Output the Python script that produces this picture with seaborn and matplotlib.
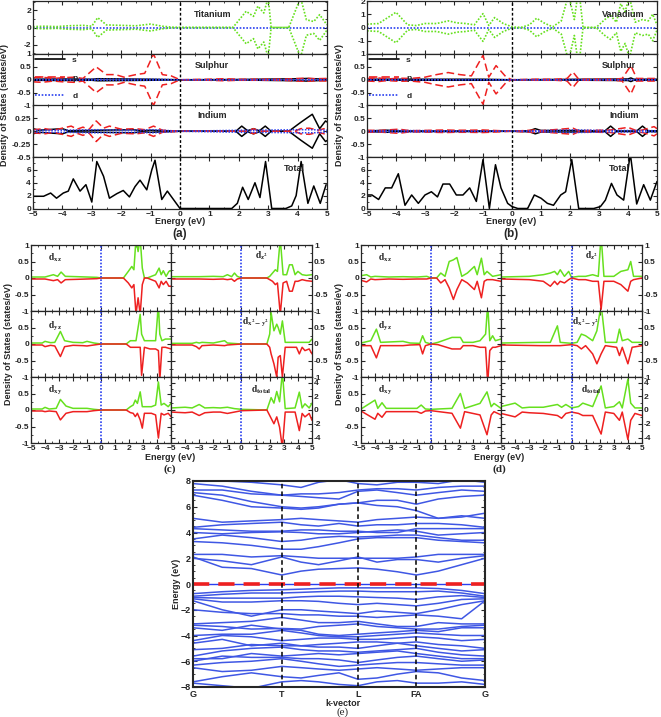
import numpy as np
import matplotlib
matplotlib.use('Agg')
import matplotlib.pyplot as plt
from matplotlib.ticker import MultipleLocator
import seaborn as sns

sns.set_style('ticks')
plt.rcParams.update({
    'font.family': ['Liberation Sans', 'DejaVu Sans'],
    'font.weight': 'bold',
    'font.size': 6,
    'axes.linewidth': 0.9,
    'axes.labelweight': 'bold',
    'xtick.direction': 'in', 'ytick.direction': 'in',
    'xtick.major.size': 3, 'ytick.major.size': 3,
    'xtick.minor.size': 1.6, 'ytick.minor.size': 1.6,
    'xtick.major.pad': 1.5, 'ytick.major.pad': 1.5,
    'mathtext.fontset': 'stix',
})

GREEN = '#66e01e'
RED = '#ee2020'
BLUE = '#2a3ff0'
BAND = '#3f57e4'

# ---------------- (a) Ti-doped: (energy, DOS) pairs, spin-down drawn mirrored
ti_d = [(-5, .1), (-4.6, .15), (-4.2, .1), (-3.8, .2), (-3.3, .25), (-3.0, .15), (-2.8, 1.15),
        (-2.5, .3), (-2.0, .25), (-1.5, .2), (-1.0, .4), (-0.6, .15), (-0.3, .05), (0, 0), (1.8, 0),
        (2.25, 1.9), (2.5, 1.3), (2.65, 2.5), (2.85, 1.7), (3.0, 3.5), (3.1, 0), (3.7, 0), (4.1, 3.5),
        (4.3, .9), (4.55, .7), (4.75, 1.5), (5, .3)]
a_s_s = [(-5, .02), (-4.0, .03), (-3.0, .02), (-2.8, .04), (-1.0, .02), (0, 0), (2, .01),
         (4.1, .04), (4.3, .05), (5, .02)]
a_s_p = [(-5, .08), (-4.7, .1), (-4.3, .05), (-4.0, .08), (-3.6, .1), (-3.3, .05), (-2.85, .5),
         (-2.5, .2), (-2.2, .2), (-1.9, .1), (-1.5, .2), (-1.2, .25), (-0.9, 1.0), (-0.6, .2),
         (-0.3, .15), (0, 0), (1.0, .02), (1.5, .04), (2.0, .02), (3.5, .02), (4.0, .05), (4.3, .06),
         (4.6, .04), (5, .05)]
a_s_d = [(-5, .01), (-2.8, .02), (-0.9, .02), (0, 0), (5, .01)]
a_in_s = [(-5, .05), (-4.8, .02), (-4.0, .05), (-3.8, .01), (-1.6, .03), (-1.3, .01), (-1.0, .02),
          (0, 0), (1.9, 0), (2.1, .1), (2.3, .01), (2.5, .05), (2.7, .01), (2.9, .1), (3.1, 0),
          (3.7, 0), (4.1, .17), (4.5, .33), (4.75, .05), (4.95, .2), (5, .18)]
a_in_p = [(-5, .03), (-4.6, .05), (-4.3, .02), (-3.7, .1), (-3.5, .04), (-3.3, .08), (-3.1, .03),
          (-2.85, .2), (-2.6, .06), (-2.4, .1), (-2.0, .04), (-1.5, .05), (-1.2, .03), (-0.9, .1),
          (-0.6, .02), (0, 0), (2.3, 0), (2.5, .05), (2.7, 0), (3.9, 0), (4.1, .05), (4.4, .06),
          (4.7, .02), (4.9, .05), (5, .04)]
a_in_d = [(-5, .02), (-4.0, .02), (-2.85, .03), (-1.6, .02), (-0.9, .03), (0, 0), (2.1, .02),
          (2.5, .02), (4.1, .03), (4.5, .03), (5, .02)]
a_total = [(-5, 1.9), (-4.64, 1.9), (-4.4, 2.4), (-4.2, 1.6), (-3.97, 2.4), (-3.8, 2.7), (-3.63, 4.6),
           (-3.4, 2.7), (-3.2, 3.7), (-3.0, 1.0), (-2.83, 7.3), (-2.6, 5.0), (-2.4, 1.6), (-2.15, 2.3),
           (-1.93, 2.8), (-1.72, 1.8), (-1.53, 3.4), (-1.36, 4.4), (-1.13, 2.9), (-0.96, 6.0),
           (-0.85, 7.5), (-0.62, 1.4), (-0.43, 2.7), (0, 0), (1.76, 0), (1.95, 0.8), (2.13, 3.3),
           (2.32, 1.4), (2.55, 4.0), (2.72, 1.7), (2.91, 7.3), (3.12, 0), (3.6, 0), (3.8, 0.4),
           (3.95, 2.0), (4.12, 7.3), (4.35, 0.8), (4.55, 3.5), (4.77, 0.8), (4.97, 3.7)]

# ---------------- (b) V-doped
v_d = [(-5, .25), (-4.6, .3), (-4.0, 1.15), (-3.6, .2), (-3.3, .15), (-3.0, .3), (-2.6, .3),
       (-2.2, .5), (-1.9, .35), (-1.6, .3), (-1.3, .2), (-1.0, 1.05), (-0.8, .15), (-0.6, .75),
       (-0.3, .3), (0, .05), (0.3, 0), (0.6, .2), (0.85, .7), (1.1, .35), (1.4, .05), (1.7, .5),
       (1.95, 2.5), (2.15, .6), (2.3, 3.0), (2.45, 0), (2.9, 0), (3.2, .6), (3.4, .9), (3.6, .4),
       (3.75, 1.8), (3.9, 1.2), (4.05, 2.3), (4.25, .4), (4.5, .6), (4.7, .5), (4.85, 1.0), (5, .2)]
b_s_s = [(-5, .02), (-1, .02), (0, 0), (4.0, .03), (4.1, .07), (4.2, .02), (5, .02)]
b_s_p = [(-5, .05), (-4.6, .07), (-4.3, .03), (-3.9, .06), (-3.5, .05), (-3.0, .1), (-2.6, .2),
         (-2.2, .28), (-1.8, .2), (-1.4, .15), (-1.0, .95), (-0.8, .1), (-0.55, .55), (-0.2, .1),
         (0, 0), (0.8, .02), (1.5, .02), (1.9, .05), (2.1, .3), (2.3, .02), (3.5, .02), (3.8, .05),
         (4.1, .55), (4.3, .05), (4.6, .05), (5, .05)]
b_s_d = [(-5, .01), (0, 0), (5, .01)]
b_in_s = [(-5, .01), (-4.3, .04), (-4.0, .01), (-1, .01), (0, 0), (0.6, .02), (0.8, .1), (1.0, .03),
          (2.1, .03), (3.2, .01), (3.4, .2), (3.6, .01), (4.3, .01), (4.5, .2), (4.7, .01), (5, .02)]
b_in_p = [(-5, .04), (-4.6, .03), (-4.3, .05), (-3.9, .08), (-3.5, .02), (-2.3, .05), (-2.0, .04),
          (-1.5, .04), (-1.0, .05), (-0.6, .03), (0, 0), (0.8, .05), (1.0, .02), (2.1, .12),
          (2.3, .02), (3.4, .05), (4.0, .15), (4.3, .02), (4.5, .05), (4.9, .18), (5, .1)]
b_in_d = [(-5, .02), (-4.0, .03), (0, 0), (0.8, .02), (2.1, .05), (3.4, .03), (4.5, .03), (5, .02)]
b_total = [(-5, 2.1), (-4.83, 2.1), (-4.6, 1.4), (-4.37, 3.2), (-4.15, 3.2), (-3.92, 5.4),
           (-3.69, 0.5), (-3.46, 2.1), (-3.23, 0.8), (-3.0, 2.1), (-2.78, 2.6), (-2.57, 1.8),
           (-2.38, 3.8), (-2.15, 3.8), (-1.92, 2.1), (-1.69, 2.1), (-1.46, 3.2), (-1.23, 1.1),
           (-1.0, 7.6), (-0.78, 0), (-0.57, 6.8), (-0.38, 3.2), (-0.15, 0.8), (0, 0.3), (0.2, 0),
           (0.54, 0), (0.77, 2.1), (1.0, 1.6), (1.22, 0.8), (1.43, 0.5), (1.68, 2.1), (1.85, 2.6),
           (2.06, 7.6), (2.3, 0), (2.82, 0), (3.05, 0.3), (3.22, 1.3), (3.43, 3.9), (3.62, 2.1),
           (3.85, 1.3), (4.08, 8.5), (4.3, 0.7), (4.54, 3.7), (4.77, 1.3), (5, 4.2)]

# ---------------- (c) Ti d-orbitals: (energy, spin up, spin down)
c_dxz = [(-5, .03, -.03), (-4, .03, -.03), (-3.4, .1, -.08), (-3.1, .05, -.05), (-2.85, .18, -.15),
         (-2.55, .05, -.05), (-1.7, .04, -.04), (-1.0, .03, -.03), (-0.3, .02, -.02), (0, 0, 0),
         (1.6, 0, 0), (1.95, .2, -.15), (2.2, .35, -.3), (2.35, .25, -.2), (2.5, 1.2, -1.1),
         (2.65, .8, -.6), (2.8, 1.2, -1.1), (2.95, .3, -.2), (3.1, 0, 0), (3.3, 0, 0), (3.9, .1, -.1),
         (4.15, .3, -.3), (4.3, .1, -.1), (4.45, .22, -.2), (4.65, .05, -.1), (4.85, .2, -.25),
         (5, .22, -.25)]
c_dz2 = [(-5, .04, -.03), (-3, .04, -.03), (-2, .05, -.04), (-1.3, .04, -.03), (-1.0, .1, -.05),
         (-0.7, .04, -.03), (-0.5, .15, -.1), (-0.3, .05, -.03), (0, 0, 0), (1.8, 0, 0),
         (2.0, .05, -.05), (2.2, .15, -.1), (2.4, .25, -.2), (2.55, .2, -.15), (2.75, 1.2, -1.1),
         (2.95, .1, -.15), (3.2, .1, -.1), (3.4, .4, -.4), (3.6, .4, -.4), (3.8, .1, -.1),
         (4.0, .2, -.1), (4.3, .1, -.05), (4.6, .08, -.08), (5, .1, -.1)]
c_dyz = [(-5, .03, -.03), (-4.2, .03, -.03), (-4.0, .08, -.08), (-3.6, .04, -.04), (-3.3, .05, -.06),
         (-2.9, .38, -.38), (-2.6, .1, -.08), (-2.0, .05, -.04), (-1.3, .04, -.05), (-1.0, .08, -.06),
         (-0.5, .03, -.03), (0, 0, 0), (1.8, 0, 0), (2.1, .1, -.1), (2.5, .1, -.1), (2.8, .9, -.1),
         (2.9, .3, -.95), (3.1, .1, -.1), (3.5, .1, -.15), (3.9, .1, -.15), (4.1, 1.2, -.2),
         (4.2, .3, -1.1), (4.35, .1, -.1), (4.6, .15, -.1), (5, .15, -.15)]
c_dx2y2 = [(-5, .02, -.03), (-3.5, .02, -.03), (-3.2, .05, -.08), (-3.0, .03, -.15), (-2.8, .05, -.05),
           (-2.0, .03, -.03), (-1.2, .1, -.05), (-1.0, .03, -.03), (0, 0, 0), (1.8, 0, 0),
           (2.0, .3, -.1), (2.1, .95, -.3), (2.3, .4, -.6), (2.5, .6, -1.0), (2.6, .5, -.4),
           (2.75, .3, -.35), (2.9, .7, -1.0), (3.1, .05, -.1), (3.9, .05, -.1), (4.1, .05, -.3),
           (4.3, .05, -.1), (4.5, .05, -.2), (4.8, .05, -.15), (5, .15, -.3)]
c_dxy = [(-5, .03, -.03), (-4.2, .03, -.03), (-4.0, .08, -.05), (-3.7, .03, -.03), (-3.2, .05, -.05),
         (-2.9, .32, -.3), (-2.5, .12, -.1), (-2.0, .05, -.05), (-1.0, .05, -.05), (-0.5, .02, -.02),
         (0, 0, 0), (1.8, 0, 0), (2.1, .1, -.08), (2.3, .15, -.1), (2.45, .3, -.2), (2.6, .2, -.1),
         (2.8, .55, -.3), (2.95, .1, -.55), (3.1, .1, -.1), (3.6, .1, -.1), (3.9, .15, -.15),
         (4.1, .85, -.85), (4.3, .15, -.1), (4.5, .2, -.15), (4.8, .1, -.1), (5, .2, -.2)]
c_dtot = [(-5, .3, -.3), (-4.0, .4, -.4), (-3.5, .3, -.3), (-3.0, .8, -.8), (-2.6, .3, -.4),
          (-2.0, .35, -.3), (-1.5, .3, -.3), (-1.0, .4, -.5), (-0.5, .2, -.3), (0, .1, -.1),
          (1.8, 0, 0), (2.1, 1.8, -1.2), (2.3, 1.0, -2.0), (2.5, 2.7, -1.0), (2.7, 1.2, -2.5),
          (2.9, 5.5, -5.5), (3.1, .2, -.3), (3.8, .3, -.3), (4.1, 2.6, -3.0), (4.3, .3, -.5),
          (4.5, .9, -1.0), (4.8, .3, -.5), (5, 1.0, -1.5)]

# ---------------- (d) V d-orbitals
d_dxz = [(-5, .07, -.07), (-4.6, .1, -.12), (-4.3, .03, -.03), (-4.0, .05, -.05), (-3.0, .03, -.03),
         (-2.0, .04, -.04), (-1.0, .03, -.03), (-0.3, .05, -.03), (0, 0, 0), (0.4, 0, 0),
         (0.7, .15, -.15), (1.0, .05, -.05), (1.3, .5, -.3), (1.6, .55, -.65), (1.85, .62, -.35),
         (2.2, .05, -.05), (2.6, .15, -.15), (3.1, .35, -.35), (3.3, .1, -.1), (3.6, .6, -.6),
         (3.8, .1, -.1), (4.0, .2, -.05), (4.4, .05, -.05), (5, .1, -.1)]
d_dz2 = [(-5, .03, -.03), (-3.0, .05, -.05), (-2.0, .1, -.1), (-1.5, .15, -.25), (-1.2, .2, -.1),
         (-1.0, .1, -.2), (-0.8, .25, -.1), (-0.5, .05, -.15), (-0.2, .2, -.05), (0, .02, 0),
         (0.5, .05, -.05), (1.0, .05, -.05), (1.5, .1, -.1), (1.9, .05, -.1), (2.1, 1.3, -.95),
         (2.3, .05, -.1), (3.0, .05, -.1), (3.5, .2, -.2), (4.0, .25, -.4), (4.2, .5, -.1),
         (4.4, .05, -.05), (5, .05, 0)]
d_dyz = [(-5, .03, -.05), (-4.3, .1, -.05), (-3.9, .45, -.42), (-3.6, .05, -.05), (-2.0, .08, -.05),
         (-1.5, .03, -.03), (-0.8, .02, -.02), (-0.6, .25, -.3), (-0.4, .05, -.05), (0, 0, 0),
         (0.5, .05, -.02), (1.5, .2, -.15), (2.1, .2, -.15), (2.3, .05, -.05), (3.0, .05, -.05),
         (3.5, .1, -.1), (3.9, .3, -.1), (4.05, 1.2, -1.2), (4.2, .1, -.2), (4.4, .25, -.1),
         (4.6, .1, -.1), (5, .15, -.05)]
d_dx2y2 = [(-5, .03, -.03), (-2.2, .05, -.05), (-1.5, .05, -.05), (-1.0, .55, -.05), (-0.8, .05, -.05),
           (0, .02, -.02), (0.4, .05, -.05), (0.7, .3, -.15), (1.0, .25, -.05), (1.5, .1, -.3),
           (1.8, .4, -.6), (2.1, 1.2, -.3), (2.4, .05, -.05), (3.2, .05, -.1), (3.4, .45, -.35),
           (3.6, .1, -.1), (4.0, .15, -.6), (4.3, .05, -.1), (5, .05, -.05)]
d_dxy = [(-5, .03, -.03), (-4.0, .3, -.28), (-3.8, .05, -.1), (-3.5, .22, -.22), (-3.2, .05, -.05),
         (-1.0, .05, -.05), (-0.7, .15, -.1), (-0.4, .03, -.03), (0, .02, -.02), (1.5, .05, -.1),
         (2.1, .5, -.55), (2.4, .05, -.05), (3.5, .2, -.15), (4.0, .55, -.75), (4.3, .1, -.15),
         (4.5, .2, -.05), (5, .05, -.15)]
d_dtot = [(-5, .5, -.5), (-4.0, 1.0, -1.0), (-3.5, .3, -.3), (-3.0, .4, -.4), (-2.0, .4, -.5),
          (-1.0, .8, -.8), (-0.7, .4, -1.2), (-0.4, .8, -.5), (0, .3, -.3), (0.5, .5, -.5),
          (0.8, 1.0, -.8), (1.5, .5, -.8), (2.1, 3.5, -3.5), (2.4, .3, -.3), (3.0, .5, -.5),
          (3.4, 1.2, -1.5), (3.6, .3, -.3), (4.0, 4.5, -4.3), (4.2, 1.0, -1.5), (4.5, .3, -.5),
          (5, .3, -.8)]

# ---------------- (e) band structure
k_path = [0, 0.1, 0.2, 0.304, 0.37, 0.43, 0.5, 0.565, 0.63, 0.7, 0.765, 0.84, 0.92, 1.0]
k_ticks = [0, 0.304, 0.565, 0.765, 1.0]
k_labels = ['G', 'T', 'L', 'FA', 'G']
cond_bands = [
    [2.1, 1.3, 1.2, 0.7, 1.0, 1.15, 1.2, 1.25, 1.15, 0.95, 0.7, 1.0, 1.5, 2.0],
    [2.0, 1.8, 1.5, 2.1, 1.7, 1.5, 1.8, 2.1, 1.7, 1.9, 1.9, 1.7, 2.0, 2.2],
    [2.3, 2.3, 2.1, 2.2, 2.1, 2.0, 2.0, 2.0, 2.0, 2.0, 2.1, 2.3, 2.3, 2.3],
    [3.3, 3.2, 3.0, 2.7, 2.7, 2.9, 3.2, 3.5, 3.6, 3.6, 3.6, 3.4, 3.3, 3.2],
    [3.5, 3.8, 3.6, 3.3, 3.4, 3.6, 3.7, 3.65, 3.7, 3.8, 3.8, 3.6, 3.4, 3.4],
    [4.0, 3.9, 4.0, 4.05, 4.0, 3.9, 3.9, 4.0, 4.1, 4.2, 4.1, 3.8, 3.9, 4.0],
    [4.3, 4.2, 4.1, 4.1, 4.2, 4.2, 4.1, 4.1, 4.0, 4.0, 4.3, 4.3, 4.3, 4.3],
    [4.4, 4.6, 4.7, 4.8, 4.6, 4.5, 4.7, 4.5, 4.6, 4.6, 4.7, 4.7, 4.6, 4.4],
    [5.1, 4.8, 4.9, 5.0, 5.1, 5.0, 4.9, 4.8, 5.0, 5.1, 5.2, 5.1, 5.3, 5.1],
    [6.9, 6.5, 6.0, 5.9, 5.8, 5.9, 6.2, 6.3, 6.1, 6.0, 5.7, 5.1, 5.2, 5.5],
    [7.1, 6.9, 6.4, 6.0, 5.9, 6.0, 6.2, 6.3, 6.5, 6.5, 6.2, 6.6, 6.8, 6.9],
    [7.3, 7.3, 7.0, 6.9, 6.8, 6.7, 6.6, 7.2, 7.3, 7.1, 6.9, 7.1, 7.3, 7.2],
    [7.8, 7.6, 7.2, 6.9, 7.0, 7.0, 7.1, 7.3, 7.4, 7.4, 7.3, 7.5, 7.6, 7.6],
    [8.3, 8.0, 7.9, 7.7, 7.5, 7.9, 8.1, 7.8, 7.7, 7.9, 7.9, 7.8, 8.1, 7.9],
]
val_bands = [
    [-0.75, -0.6, -0.5, -0.45, -0.4, -0.35, -0.3, -0.3, -0.3, -0.3, -0.3, -0.35, -0.5, -0.75],
    [-0.95, -0.8, -0.7, -0.7, -0.65, -0.6, -0.55, -0.55, -0.6, -0.6, -0.6, -0.55, -0.7, -0.95],
    [-1.05, -1.1, -1.1, -1.1, -1.0, -0.95, -0.95, -1.0, -1.05, -1.1, -1.2, -1.0, -0.9, -1.05],
    [-1.15, -1.4, -1.4, -1.3, -1.3, -1.35, -1.5, -1.6, -1.5, -1.6, -1.7, -1.5, -1.2, -1.15],
    [-1.3, -2.0, -2.5, -2.0, -2.0, -2.1, -2.2, -2.3, -2.1, -2.2, -2.3, -2.0, -1.6, -1.3],
    [-2.0, -2.2, -2.3, -2.3, -2.4, -2.4, -2.5, -2.5, -2.6, -2.5, -2.4, -2.5, -2.7, -1.3],
    [-3.1, -3.0, -2.9, -2.6, -2.8, -3.0, -3.0, -2.9, -3.1, -3.3, -3.3, -3.0, -3.1, -3.1],
    [-3.2, -3.3, -3.5, -3.45, -3.5, -3.3, -3.2, -3.1, -3.3, -3.4, -3.5, -3.5, -3.3, -3.2],
    [-3.4, -3.6, -3.2, -3.5, -3.6, -3.9, -4.0, -3.9, -3.8, -3.7, -3.6, -3.7, -3.4, -3.4],
    [-4.0, -3.9, -3.9, -3.6, -3.8, -4.0, -4.1, -4.1, -4.0, -3.9, -3.8, -3.9, -4.0, -4.0],
    [-4.4, -4.0, -4.1, -4.4, -4.3, -4.2, -4.2, -4.3, -4.3, -4.2, -4.1, -4.2, -4.4, -4.3],
    [-4.6, -4.3, -4.8, -4.6, -4.8, -4.9, -4.9, -5.0, -4.8, -4.6, -4.5, -4.7, -4.8, -5.0],
    [-5.1, -5.0, -4.7, -4.8, -4.8, -4.7, -4.6, -4.5, -4.5, -4.6, -4.8, -5.0, -5.2, -5.1],
    [-5.6, -5.2, -5.0, -4.9, -5.1, -5.2, -5.2, -5.3, -5.2, -5.1, -5.0, -5.3, -5.5, -5.6],
    [-5.8, -5.8, -5.4, -5.6, -5.5, -5.4, -5.5, -5.4, -5.3, -5.2, -5.4, -5.6, -5.8, -5.8],
    [-6.0, -5.6, -5.7, -5.7, -5.8, -5.8, -5.9, -6.1, -5.9, -5.7, -5.6, -5.8, -6.0, -5.9],
    [-6.3, -6.1, -6.0, -5.8, -6.0, -6.2, -6.4, -6.3, -6.2, -6.1, -6.1, -6.2, -6.3, -6.3],
    [-6.5, -6.8, -6.7, -6.4, -6.5, -6.6, -6.7, -6.6, -6.5, -6.6, -6.7, -6.6, -6.5, -6.5],
    [-7.6, -7.2, -6.9, -7.2, -7.3, -7.1, -6.9, -7.4, -7.3, -7.0, -6.8, -6.9, -7.3, -7.5],
    [-7.7, -7.9, -8.1, -7.6, -7.5, -7.6, -7.8, -7.9, -7.6, -7.5, -7.7, -7.7, -7.6, -7.8],
]

W, H = 661, 717
fig = plt.figure(figsize=(W / 100, H / 100), dpi=100)


def px_axes(x0, y0, x1, y1):
    return fig.add_axes([x0 / W, 1 - y1 / H, (x1 - x0) / W, (y1 - y0) / H])


def line(ax, x, y, color, ls='-', lw=1.0):
    sns.lineplot(x=np.asarray(x), y=np.asarray(y), ax=ax, color=color, linestyle=ls,
                 linewidth=lw, estimator=None, sort=False, legend=False)


def mirrored(ax, pts, color, ls, lw=1.0):
    e, v = np.array(pts, dtype=float).T
    line(ax, e, v, color, ls, lw)
    line(ax, e, -v, color, ls, lw)


def dos_axis(ax, ylim, ticks, labels, show_x=False):
    ax.set_xlim(-5, 5)
    ax.set_ylim(*ylim)
    ax.xaxis.set_major_locator(MultipleLocator(1))
    ax.xaxis.set_minor_locator(MultipleLocator(0.5))
    ax.set_yticks(ticks)
    ax.set_yticklabels(labels)
    ax.tick_params(which='both', top=True, right=True, labelbottom=show_x)
    ax.set_xlabel('')
    ax.set_ylabel('')
    ax.axvline(0, color='black', ls=(0, (2, 1.5)), lw=1.0)


DOT = (0, (1, 1))
DASH = (0, (5, 2.5))

# ----- panels (a) and (b)
for x0, x1, tm, sp, inn, tot, name, tm_lim, tm_ticks, tm_lbl, in_lim, in_ticks, in_lbl, cx in [
    (33, 327, ti_d, (a_s_s, a_s_p, a_s_d), (a_in_s, a_in_p, a_in_d), a_total, 'Titanium',
     (-3.1, 3.1), [-2, 0, 2], ['-2', '0', '2'],
     (-0.5, 0.5), [-0.5, -0.25, 0, 0.25], ['-0.5', '-0.25', '0', '0.25'], 180),
    (367, 657, v_d, (b_s_s, b_s_p, b_s_d), (b_in_s, b_in_p, b_in_d), b_total, 'Vanadium',
     (-2, 2), [-1, 0, 1, 2], ['-1', '0', '1', '2'],
     (-1, 1), [-1, -0.5, 0, 0.5], ['-1', '-0.5', '0', '0.5'], 511)]:
    rows = [(1, 54), (54, 105.5), (105.5, 157), (157, 208.5)]
    axs = [px_axes(x0, r0, x1, r1) for r0, r1 in rows]
    lx = 0.61 if name == 'Titanium' else 0.885

    ax = axs[0]
    ax.axhline(0, color=BLUE, ls=DOT, lw=1.2)
    mirrored(ax, tm, GREEN, DOT, 1.2)
    dos_axis(ax, tm_lim, tm_ticks, tm_lbl)
    ax.yaxis.set_minor_locator(MultipleLocator(1))
    ax.text(lx, 0.75, name, transform=ax.transAxes, ha='center', va='center', fontsize=6.5)

    ax = axs[1]
    for pts, c, ls in zip(sp, ['black', RED, BLUE], ['-', DASH, DOT]):
        mirrored(ax, pts, c, ls, 1.1)
    dos_axis(ax, (-1, 1), [-1, -0.5, 0, 0.5, 1], ['-1', '-0.5', '0', '0.5', '1'])
    ax.text(lx if name == 'Titanium' else 0.87, 0.77,
            'Sulphur', transform=ax.transAxes, ha='center', va='center', fontsize=6.5)
    hs = [ax.plot([], [], color=c, ls=ls, lw=1.2)[0]
          for c, ls in zip(['black', RED, BLUE], ['-', DASH, DOT])]
    ax.legend(hs, ['s', 'p', 'd'], loc='upper left', frameon=False, fontsize=6,
              handlelength=3.6, labelspacing=1.25, borderaxespad=0.05, borderpad=0.15,
              handletextpad=0.9)

    ax = axs[2]
    for pts, c, ls in zip(inn, ['black', RED, BLUE], ['-', DASH, DOT]):
        mirrored(ax, pts, c, ls, 1.1)
    dos_axis(ax, in_lim, in_ticks, in_lbl)
    ax.text(lx, 0.8, 'Indium', transform=ax.transAxes, ha='center', va='center', fontsize=6.5)

    ax = axs[3]
    e, v = np.array(tot).T
    line(ax, e, v, 'black', '-', 1.1)
    dos_axis(ax, (0, 8), [0, 2, 4, 6], ['0', '2', '4', '6'], show_x=True)
    ax.yaxis.set_minor_locator(MultipleLocator(1))
    ax.text(0.89 if name == 'Titanium' else 0.87, 0.77, 'Total', transform=ax.transAxes,
            ha='center', va='center', fontsize=6.5)

    fig.text(cx / W, 1 - 221 / H, 'Energy (eV)', ha='center', va='center', fontsize=6.5)
    fig.text(cx / W, 1 - 234 / H, '(a)' if name == 'Titanium' else '(b)', ha='center',
             va='center', fontsize=8.5)
    fig.text((x0 - 28) / W, 1 - 105 / H, 'Density of States (states/eV)', rotation=90,
             ha='center', va='center', fontsize=6.5)

# ----- panels (c) and (d)
orb_labels = [r'$\mathbf{d_{xz}}$', r'$\mathbf{d_{z^2}}$', r'$\mathbf{d_{yz}}$',
              r'$\mathbf{d_{x^2-y^2}}$', r'$\mathbf{d_{xy}}$', r'$\mathbf{d_{total}}$']
lab_pos = [(0.17, 0.8), (0.64, 0.84), (0.17, 0.77), (0.6, 0.82), (0.17, 0.8), (0.64, 0.8)]
for x0, xm, x1, curves, cx, tag in [
        (31, 171, 312, [c_dxz, c_dz2, c_dyz, c_dx2y2, c_dxy, c_dtot], 170, '(c)'),
        (361, 501, 642, [d_dxz, d_dz2, d_dyz, d_dx2y2, d_dxy, d_dtot], 499, '(d)')]:
    rows = [(245, 311), (311, 377), (377, 443)]
    for i, pts in enumerate(curves):
        r0, r1 = rows[i // 2]
        right = i % 2 == 1
        ax = px_axes(xm if right else x0, r0, x1 if right else xm, r1)
        e, up, dn = np.array(pts, dtype=float).T
        line(ax, e, up, GREEN, '-', 1.1)
        line(ax, e, dn, RED, '-', 1.1)
        ax.set_xlim(-5, 5)
        ax.xaxis.set_major_locator(MultipleLocator(1))
        ax.xaxis.set_minor_locator(MultipleLocator(0.5))
        if i == 5:
            ax.set_ylim(-4.8, 4.8)
            ax.set_yticks([-4, -2, 0, 2, 4])
            ax.set_yticklabels(['-4', '-2', '0', '2', '4'])
            ax.yaxis.set_minor_locator(MultipleLocator(1))
        else:
            ax.set_ylim(-1, 1)
            if i < 2:
                ax.set_yticks([-1, -0.5, 0, 0.5, 1])
                ax.set_yticklabels(['-1', '-0.5', '0', '0.5', '1'])
            else:
                ax.set_yticks([-1, -0.5, 0, 0.5])
                ax.set_yticklabels(['-1', '-0.5', '0', '0.5'])
            ax.yaxis.set_minor_locator(MultipleLocator(0.25))
        ax.tick_params(which='both', top=True, right=True, labelbottom=(i >= 4),
                       labelleft=not right, labelright=right)
        if i == 4:
            ax.set_xticks(range(-5, 5))
        ax.set_xlabel('')
        ax.set_ylabel('')
        ax.axvline(0, color=BLUE, ls=DOT, lw=1.2)
        ax.text(lab_pos[i][0], lab_pos[i][1], orb_labels[i], transform=ax.transAxes,
                ha='center', va='center', fontsize=7)
    fig.text(cx / W, 1 - 457 / H, 'Energy (eV)', ha='center', va='center', fontsize=6.5)
    fig.text(cx / W, 1 - 469 / H, tag, ha='center', va='center', fontsize=8,
             family='Liberation Serif')
    fig.text((x0 - 22) / W, 1 - 344 / H, 'Density of States (states/eV)', rotation=90,
             ha='center', va='center', fontsize=6.5)

# ----- panel (e)
ax = px_axes(193, 481, 485, 687)
for b in cond_bands + val_bands:
    line(ax, k_path, b, BAND, '-', 1.1)
ax.axhline(0, color=BLUE, lw=1.0)
ax.axhline(0, color=RED, lw=2.6, ls=(0, (4.5, 2.5)))
for kx in k_ticks[1:-1]:
    ax.axvline(kx, color='black', ls=(0, (3, 2)), lw=1.1)
ax.set_xlim(0, 1)
ax.set_ylim(-8, 8)
ax.set_xticks(k_ticks)
ax.set_xticklabels(k_labels, fontsize=6.5)
ax.set_yticks(range(-8, 9, 2))
ax.yaxis.set_minor_locator(MultipleLocator(0.5))
ax.tick_params(axis='x', length=0, pad=2)
ax.tick_params(axis='y', which='both', left=True, right=True, labelsize=6.5)
for s in ax.spines.values():
    s.set_linewidth(1.5)
ax.set_xlabel('')
ax.set_ylabel('Energy (eV)', fontsize=6.5, fontweight='bold', labelpad=0)
fig.text(343 / W, 1 - 703 / H, 'k-vector', ha='center', va='center', fontsize=6.5)
fig.text(343 / W, 1 - 712.5 / H, '(e)', ha='center', va='center', fontsize=8,
         family='Liberation Serif', fontweight='normal')

fig.savefig('out.png', dpi=100)
